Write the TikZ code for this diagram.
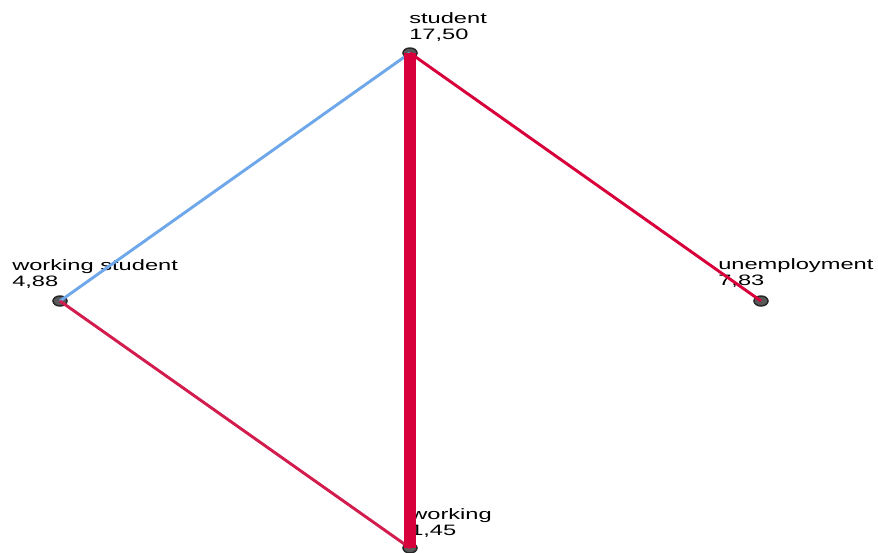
\documentclass[tikz,border=0pt]{standalone}
\usepackage{fontspec}
\newfontfamily\lblfont{Liberation Sans}[FakeStretch=1.57]
\usetikzlibrary{shapes.geometric}

\definecolor{edgered}{HTML}{D8003A}
\definecolor{edgepink}{HTML}{D21C4E}
\definecolor{edgeblue}{HTML}{6EA8EA}

\begin{document}
\begin{tikzpicture}[
    x=0.75pt, y=-0.75pt,
    dot/.style={draw=black!85, fill=black!65, ellipse, line width=1.1pt, minimum width=10.5pt, minimum height=7.5pt, inner sep=0pt},
    lbl/.style={font=\lblfont\fontsize{11.3}{11.3}\selectfont, align=left, anchor=base west, inner sep=0pt},
    link/.style={line width=2.2pt},
    strong/.style={line width=9pt}
]
\useasboundingbox (0,0) rectangle (878,553);

% Category points
\node[dot] (stud) at (410,53) {};
\node[dot] (wstud) at (60,301) {};
\node[dot] (unemp) at (761,301) {};
\node[dot] (work) at (410,548) {};

% Labels with frequencies
\node[lbl] (studlbl) at (409,39) {student\\17,50};
\node[lbl] (wstudlbl) at (12,286) {working student\\4,88};
\node[lbl] (unemplbl) at (718,285) {unemployment\\7,83};
\node[lbl] (worklbl) at (410,535) {working\\1,45};

% Connections
\draw[link, edgeblue] (stud.center) -- (wstud.center);
\draw[link, edgered] (stud.center) -- (unemp.center);
\draw[link, edgepink] (wstud.center) -- (work.center);
\draw[strong, edgered] (stud.center) -- (work.center);

\end{tikzpicture}
\end{document}
